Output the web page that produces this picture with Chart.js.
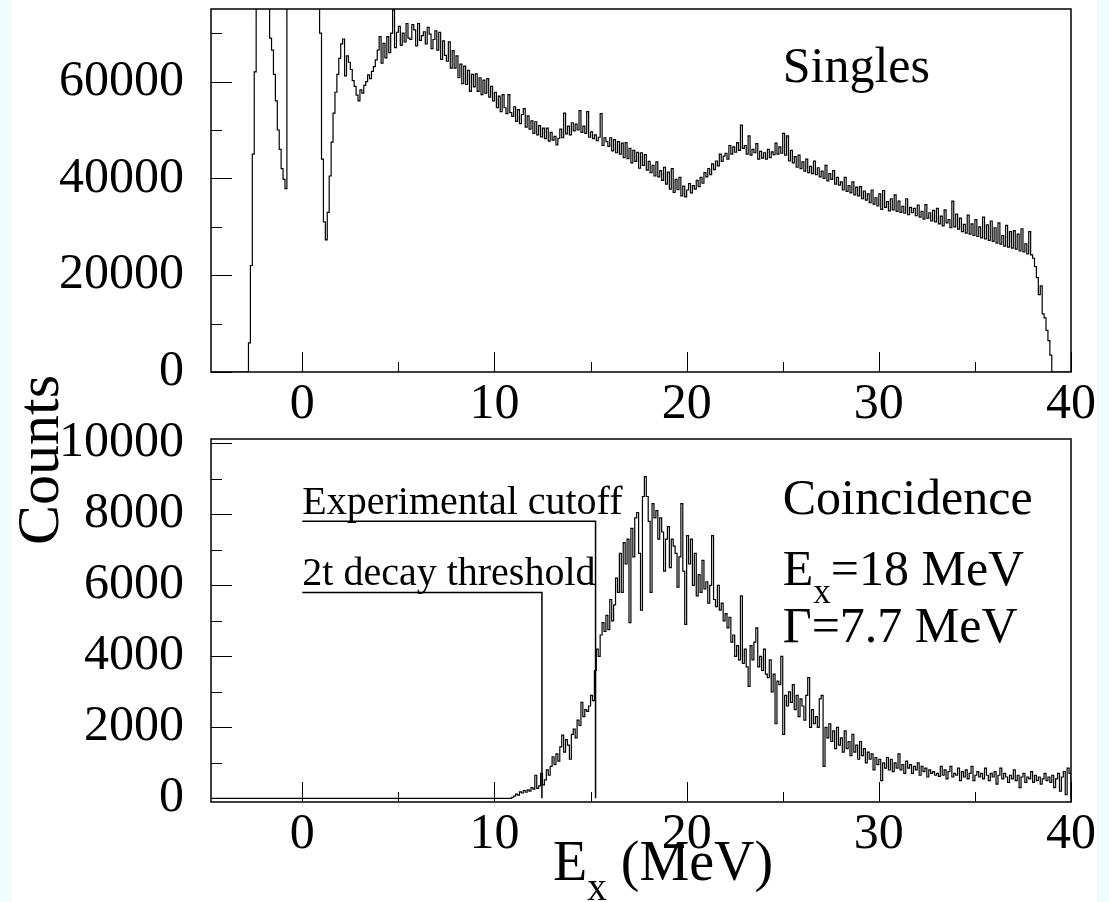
<!DOCTYPE html>
<html>
<head>
<meta charset="utf-8">
<script src="https://cdn.jsdelivr.net/npm/chart.js@4.4.1/dist/chart.umd.min.js"></script>
<style>
  body { margin: 0; background: #fff; }
  #page { position: relative; width: 1109px; height: 902px; overflow: hidden; background: #fff; }
  .strip { position: absolute; top: 0; height: 902px; background: #eefcfd; }
  canvas { position: absolute; left: 0; top: 0; }
</style>
</head>
<body>
<div id="page">
  <div class="strip" style="left:0;width:12px"></div>
  <div class="strip" style="left:1097px;width:12px"></div>
  <canvas id="singlesChart" width="1109" height="902"></canvas>
  <canvas id="coincChart" width="1109" height="902"></canvas>
</div>
<script>
// E_x axis (MeV), histogram bins of 0.1 MeV
const xMin = -4.75;
const xMax = 40;
const binWidth = 0.1;

// Singles spectrum, first bin starts at -3.0 MeV (120000 = off scale)
const singlesStart = -3.0;
const singlesCounts = [
  0, 0, 6000, 22000, 45000, 62000, 120000, 120000, 120000, 120000,
  120000, 120000, 120000, 69000, 66500, 61500, 56000, 50000, 46000, 42000,
  39800, 37900, 120000, 120000, 120000, 120000, 120000, 120000, 120000, 120000,
  120000, 120000, 120000, 120000, 120000, 120000, 120000, 120000, 120000, 70000,
  44000, 31000, 27300, 33000, 40500, 47500, 53500, 57800, 61500, 64800,
  67800, 68800, 61200, 65300, 64000, 62500, 60200, 59000, 57200, 56000,
  58300, 57600, 59200, 60000, 61400, 60600, 62100, 63100, 64500, 66500,
  69300, 63800, 67900, 64900, 69300, 66000, 70000, 74800, 67000, 70200,
  71400, 67500, 70000, 68200, 72000, 69000, 68700, 71800, 70700, 67400,
  72000, 68500, 69500, 70300, 67800, 71200, 69800, 66800, 68700, 70500,
  66500, 70200, 64600, 68400, 65400, 64200, 68200, 62800, 66400, 62800,
  65300, 60800, 63600, 59600, 63200, 59400, 62300, 58000, 61500, 58900,
  61600, 58000, 60800, 57300, 60300, 57600, 60600, 56800, 59000, 56000,
  57800, 54600, 57000, 53800, 57300, 54600, 53400, 57300, 53600, 52800,
  54800, 51800, 54200, 51300, 53200, 54400, 50600, 52900, 50200, 51900,
  49300, 51700, 49000, 50900, 48600, 50400, 48200, 50400, 47700, 49500,
  47900, 48700, 46900, 48300, 50200, 48400, 53500, 49200, 50800, 49000,
  51500, 49800, 51200, 50000, 54000, 49500, 50800, 49300, 53800, 48500,
  49600, 48200, 49000, 47800, 48500, 53400, 46800, 48400, 47600, 46600,
  48400, 45700, 48000, 45300, 47600, 45000, 47300, 44300, 47400, 44100,
  46200, 43200, 45800, 43500, 45400, 42100, 45300, 42700, 44900, 41700,
  43500, 41200, 42700, 40500, 43400, 40300, 41600, 39600, 42300, 38800,
  41300, 37800, 42000, 37100, 39800, 37700, 40200, 36400, 38400, 36200,
  37600, 38900, 37000, 38500, 37800, 39600, 38300, 40200, 39000, 41200,
  40300, 42000, 40800, 43000, 41800, 43600, 42600, 45000, 43500, 44600,
  45200, 44000, 46800, 45000, 46500, 45400, 47400, 45800, 51000, 46200,
  46800, 45000, 48800, 44800, 46000, 45300, 47200, 44000, 45600, 44200,
  45300, 44000, 46000, 44300, 45500, 44900, 47300, 45000, 46500, 45200,
  49300, 44800, 48800, 43600, 45800, 43200, 44500, 42300, 44800, 42000,
  43400, 41500, 44000, 41200, 42500, 41000, 43600, 40800, 42200, 40300,
  41500, 40000, 42700, 39500, 41000, 39800, 41600, 38800, 40200, 38600,
  39300, 37600, 40200, 37300, 38500, 37000, 39300, 36600, 38200, 36400,
  38300, 35800, 37400, 35500, 36800, 35000, 37600, 34700, 36000, 34300,
  36800, 33600, 37500, 34000, 35200, 33300, 35800, 33500, 36600, 33200,
  35300, 33000, 34200, 32800, 35800, 32500, 34000, 32900, 33800, 32300,
  34500, 32000, 33200, 31600, 34600, 31800, 32900, 31200, 33400, 31000,
  33800, 30600, 32200, 30200, 33500, 30800, 31500, 29800, 35300, 30000,
  32600, 29500, 31800, 29000, 30500, 28700, 32400, 28500, 30600, 28200,
  31500, 28000, 30000, 27700, 32000, 27500, 30400, 27200, 31200, 27000,
  29800, 26600, 30800, 26400, 28200, 26000, 30300, 25800, 29000, 25600,
  29200, 25400, 28500, 25000, 29600, 24800, 26500, 24400, 29000, 24200,
  23500, 21800, 19500, 16000, 17800, 12000, 11200, 8600, 6500, 3500
];

// Coincidence spectrum, first bin starts at 10.9 MeV
const coincStart = 10.9;
const coincCounts = [
  30,
  60, 120, 90, 180, 150, 220, 170, 240, 200, 300,
  260, 650, 280, 350, 700, 380, 520, 800, 650, 900,
  1170, 950, 1250, 1050, 1450, 1780, 1300, 1650, 1500, 1100,
  1800, 1950, 1700, 2200, 2050, 2700, 2300, 2500, 2450, 2600,
  2900, 2750, 3600, 4200, 4000, 4600, 4950, 4700, 5150, 4750,
  5600, 5000, 5450, 6200, 5800, 6900, 5800, 7200, 6600, 7300,
  4950, 7600, 6800, 7900, 8050, 6900, 5300, 8500, 9060, 8500,
  7800, 5800, 8300, 7900, 8100, 7300, 7900, 7500, 6400, 7300,
  7650, 6500, 7300, 7100, 6900, 5950, 6800, 8300, 6400, 4900,
  7400, 6600, 7300, 6000, 6900, 5700, 6300, 5800, 6700, 5900,
  6100, 5500, 6000, 7400, 5600, 5400, 6000, 5300, 5500, 5000,
  5200, 4800, 5100, 4400, 4600, 4000, 4300, 3900, 5700, 3800,
  4200, 3700, 3150, 4300, 3900, 4400, 4800, 3700, 4000, 3600,
  4200, 3500, 3400, 3900, 3000, 3500, 2100, 3300, 3200, 4000,
  1800, 2900, 2600, 3000, 2700, 3200, 2500, 2900, 2300, 2800,
  2600, 2200, 2900, 3400, 2000, 2500, 2100, 2300, 2000, 2800,
  2900, 900, 2000, 1700, 2100, 1600, 1900, 1400, 2000, 1500,
  1700, 1300, 1900, 1400, 1600, 1200, 1800, 1300, 1500, 1100,
  1600, 1200, 1400, 1000, 1300, 1100, 1250, 800, 1150, 950,
  1100, 500, 1000, 850, 1150, 800, 1100, 750, 1000, 850,
  1250, 800, 950, 700, 1050, 850, 950, 700, 900, 800,
  1000, 650, 900, 750, 850, 600, 800, 700, 750, 650,
  700, 620, 900, 650, 800, 550, 750, 900, 600, 700,
  650, 850, 500, 750, 600, 800, 550, 700, 900, 500,
  650, 750, 600, 700, 550, 850, 650, 500, 700, 600,
  750, 400, 650, 850, 550, 700, 600, 450, 650, 550,
  800, 500, 650, 300, 600, 700, 450, 600, 550, 750,
  450, 650, 500, 600, 400, 550, 700, 500, 600, 450,
  650, 300, 550, 700, 200, 600, 750, 100, 850, 700
];

// marker lines in the coincidence panel
const cutoffX = [0, 15.26, 15.26];
const cutoffY = [7800, 7800, 0];
const thresholdX = [0, 12.47, 12.47];
const thresholdY = [5800, 5800, 0];

// axis ticks
const xTicksMajor = [0, 10, 20, 30, 40];
const xTicksMinor = [5, 15, 25, 35];
const singlesYTicks = [0, 20000, 40000, 60000];
const singlesYMinor = [10000, 30000, 50000, 70000];
const coincYTicks = [0, 2000, 4000, 6000, 8000, 10000];
const coincYMinor = [1000, 3000, 5000, 7000, 9000];

const serif = "'Liberation Serif', 'Times New Roman', serif";

function histPoints(start, counts) {
  const pts = [{ x: xMin, y: 0 }];
  counts.forEach((c, i) => pts.push({ x: +(start + i * binWidth).toFixed(2), y: c }));
  const end = +(start + counts.length * binWidth).toFixed(2);
  pts.push({ x: end, y: 0 });
  if (end < xMax) pts.push({ x: xMax, y: 0 });
  return pts;
}

function linePoints(xs, ys) {
  return xs.map((x, i) => ({ x: x, y: ys[i] }));
}

function drawText(ctx, item, px, py) {
  let x = px;
  for (const [str, sub] of item.parts) {
    const size = sub ? item.size * 0.7 : item.size;
    ctx.font = size + 'px ' + serif;
    ctx.fillText(str, x, sub ? py + item.size * 0.36 : py);
    x += ctx.measureText(str).width;
  }
}

const framePlugin = {
  id: 'frame',
  afterDraw(chart, args, opts) {
    const { ctx, chartArea: a, scales: { x, y } } = chart;
    ctx.save();
    ctx.strokeStyle = '#000';
    ctx.lineWidth = 1;
    ctx.beginPath();
    const xt = (vals, len) => vals.forEach(v => {
      const p = Math.round(x.getPixelForValue(v)) + 0.5;
      ctx.moveTo(p, a.bottom); ctx.lineTo(p, a.bottom - len);
    });
    const yt = (vals, len) => vals.forEach(v => {
      const p = Math.round(y.getPixelForValue(v)) + 0.5;
      ctx.moveTo(a.left, p); ctx.lineTo(a.left + len, p);
    });
    xt(xTicksMajor, 20); xt(xTicksMinor, 10);
    yt(opts.yMajor, 21); yt(opts.yMinor, 11);
    ctx.stroke();
    ctx.lineWidth = 1.5;
    ctx.strokeRect(a.left, a.top, a.right - a.left, a.bottom - a.top);

    ctx.fillStyle = '#000';
    ctx.textAlign = 'left';
    ctx.textBaseline = 'alphabetic';
    for (const t of opts.texts) {
      drawText(ctx, t, x.getPixelForValue(t.x), y.getPixelForValue(t.y));
    }
    for (const t of (opts.titles || [])) {
      ctx.save();
      ctx.translate(t.px, t.py);
      ctx.rotate(t.rot || 0);
      ctx.textAlign = t.align || 'left';
      if (t.align === 'center') {
        ctx.font = t.size + 'px ' + serif;
        ctx.fillText(t.parts[0][0], 0, 0);
      } else {
        drawText(ctx, t, 0, 0);
      }
      ctx.restore();
    }
    ctx.restore();
  }
};

function makeChart(id, cfg) {
  const font = { family: serif, size: 50 };
  return new Chart(document.getElementById(id), {
    type: 'line',
    data: { datasets: cfg.datasets },
    options: {
      responsive: false,
      animation: false,
      events: [],
      layout: { padding: { left: 0, right: 38, top: cfg.top, bottom: cfg.bottom } },
      plugins: { legend: { display: false }, tooltip: { enabled: false }, frame: cfg.frame },
      elements: { point: { radius: 0 }, line: { tension: 0 } },
      scales: {
        x: {
          type: 'linear', min: xMin, max: xMax,
          grid: { display: false, drawTicks: false }, border: { display: false },
          ticks: { font, color: '#000', padding: 3, autoSkip: false, maxRotation: 0 },
          afterBuildTicks: ax => { ax.ticks = xTicksMajor.map(v => ({ value: v })); },
          afterFit: ax => { ax.height = 60; ax.paddingLeft = 0; ax.paddingRight = 0; }
        },
        y: {
          type: 'linear', min: cfg.yMin, max: cfg.yMax,
          grid: { display: false, drawTicks: false }, border: { display: false },
          ticks: { font, color: '#000', padding: 27, callback: v => String(v) },
          afterBuildTicks: ax => { ax.ticks = cfg.frame.yMajor.map(v => ({ value: v })); },
          afterFit: ax => { ax.width = 211; ax.paddingTop = 0; ax.paddingBottom = 0; }
        }
      }
    },
    plugins: [framePlugin]
  });
}

makeChart('singlesChart', {
  top: 9, bottom: 470, yMin: 0, yMax: 75000,
  datasets: [{
    data: histPoints(singlesStart, singlesCounts),
    borderColor: '#000', borderWidth: 1.2, stepped: true, clip: 0
  }],
  frame: {
    yMajor: singlesYTicks, yMinor: singlesYMinor,
    texts: [{ x: 25, y: 60000, size: 50, parts: [['Singles', 0]] }]
  }
});

makeChart('coincChart', {
  top: 439, bottom: 40, yMin: -104, yMax: 10120,
  datasets: [
    { data: histPoints(coincStart, coincCounts), borderColor: '#000', borderWidth: 1.2, stepped: true, clip: 0 },
    { data: linePoints(cutoffX, cutoffY), borderColor: '#000', borderWidth: 1.5 },
    { data: linePoints(thresholdX, thresholdY), borderColor: '#000', borderWidth: 1.5 }
  ],
  frame: {
    yMajor: coincYTicks, yMinor: coincYMinor,
    texts: [
      { x: 25, y: 8000, size: 50, parts: [['Coincidence', 0]] },
      { x: 25, y: 6000, size: 50, parts: [['E', 0], ['x', 1], ['=18 MeV', 0]] },
      { x: 25, y: 4400, size: 50, parts: [['\u0393=7.7 MeV', 0]] },
      { x: 0, y: 8000, size: 40, parts: [['Experimental cutoff', 0]] },
      { x: 0, y: 6000, size: 40, parts: [['2t decay threshold', 0]] }
    ],
    titles: [
      { px: 58, py: 460, rot: -Math.PI / 2, align: 'center', size: 60, parts: [['Counts', 0]] },
      { px: 553, py: 880, size: 56, parts: [['E', 0], ['x', 1], [' (MeV)', 0]] }
    ]
  }
});
</script>
</body>
</html>
